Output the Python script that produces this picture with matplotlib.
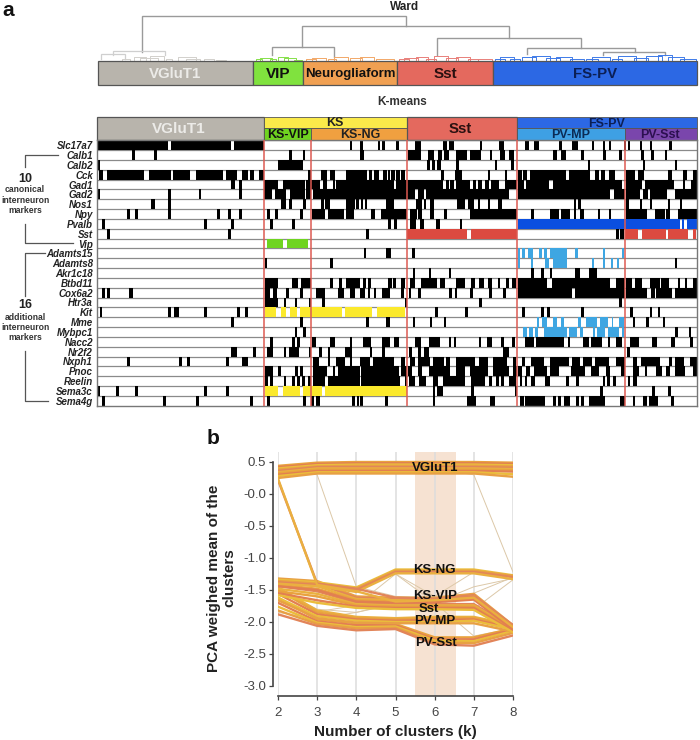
import matplotlib
matplotlib.use("Agg")
import matplotlib.pyplot as plt
from matplotlib.patches import Rectangle

plt.rcParams['font.family'] = ['Liberation Sans', 'DejaVu Sans']

W, H = 700, 740
fig = plt.figure(figsize=(W/100, H/100), dpi=100)

# ---------- data: panel a ----------
genes = ["Slc17a7","Calb1","Calb2","Cck","Gad1","Gad2","Nos1","Npy","Pvalb","Sst","Vip",
         "Adamts15","Adamts8","Akr1c18","Btbd11","Cox6a2","Htr3a","Kit","Mme","Mybpc1",
         "Nacc2","Nr2f2","Nxph1","Pnoc","Reelin","Sema3c","Sema4g"]

# positive cells, as spans along the cell ordering (two halves of the ordering)
left_black = {
 "Slc17a7":[(291,503),(513,693),(703,790)],
 "Calb1":[(398,405),(464,471),(869,875),(910,915)],
 "Calb2":[(291,298),(835,908)],
 "Cck":[(298,307),(323,430),(447,512),(520,526),(530,570),(588,668),(678,710),(727,743),(752,760),(777,790),(925,932),(965,980),(990,1005),(1040,1050)],
 "Gad1":[(695,703),(718,725),(792,833),(850,915),(920,932),(935,958),(970,980),(1000,1005),(1010,1050)],
 "Gad2":[(291,298),(505,512),(597,603),(718,725),(792,815),(825,858),(870,915),(918,932),(940,1050)],
 "Nos1":[(455,463),(505,512),(843,858),(868,875),(910,916),(965,970),(975,990),(1040,1050)],
 "Npy":[(381,388),(406,413),(505,512),(653,660),(686,693),(718,725),(802,809),(827,834),(900,907),(937,975),(985,1032),(1040,1050)],
 "Pvalb":[(307,314),(612,619),(695,702),(810,817),(877,883)],
 "Sst":[(323,330),(686,693)],
 "Vip":[],"Adamts15":[],
 "Adamts8":[(795,801),(992,999)],
 "Akr1c18":[],
 "Btbd11":[(795,833),(877,892),(903,932),(992,999),(1018,1025),(1040,1050)],
 "Cox6a2":[(307,314),(323,330),(389,397),(795,810),(820,830),(860,866),(900,907),(950,975),(1015,1032)],
 "Htr3a":[(795,833),(852,858),(885,891),(927,933),(967,974)],
 "Kit":[(300,306),(505,512),(522,537),(612,619),(711,718),(736,743)],
 "Mme":[(695,702),(900,907)],
 "Mybpc1":[(885,891),(910,916)],
 "Nacc2":[(810,817),(877,885),(893,899),(938,948),(992,1005)],
 "Nr2f2":[(695,709),(761,767),(802,817),(852,858),(868,897),(927,933),(958,965),(985,990),(1035,1050)],
 "Nxph1":[(381,388),(538,545),(563,570),(678,685),(727,743),(940,955),(985,990),(1010,1035)],
 "Pnoc":[(795,817),(835,842),(885,892),(900,908),(940,980),(1000,1005),(1015,1050)],
 "Reelin":[(797,803),(810,817),(852,858),(877,883),(892,899),(908,915),(925,932),(940,975),(985,1050)],
 "Sema3c":[(291,298),(348,355),(406,413),(612,619),(678,685)],
 "Sema4g":[(307,314),(489,496),(588,595),(752,759),(802,809),(910,916),(935,940),(950,958)],
}
right_black = {
 "Slc17a7":[(0,4),(30,38),(85,90),(97,103),(140,146),(197,212),(280,290),(298,310),(392,395),(447,460),(527,535),(552,567),(628,634),(668,682),(726,732),(760,764),(778,783),(822,826),(835,840),(870,875),(900,905),(958,965)],
 "Calb1":[(32,40),(175,212),(235,250),(265,275),(282,295),(320,350),(362,392),(420,426),(452,465),(478,492),(610,620),(633,648),(695,702),(760,766),(808,814),(875,880),(905,912),(945,950)],
 "Calb2":[(232,238),(247,255),(262,272),(320,326),(435,440),(485,490),(715,720),(880,885),(975,980)],
 "Cck":[(0,50),(58,65),(72,85),(100,110),(115,120),(125,135),(140,150),(155,165),(275,280),(315,335),(415,420),(465,470),(505,515),(520,530),(540,648),(658,720),(735,745),(755,765),(778,795),(830,855),(865,880),(955,965),(1000,1010),(1030,1040)],
 "Gad1":[(0,130),(140,170),(172,278),(290,295),(300,310),(320,360),(370,378),(385,395),(405,415),(425,445),(465,500),(505,520),(530,595),(610,815),(830,875),(885,970),(1000,1005),(1025,1040)],
 "Gad2":[(0,195),(205,220),(230,475),(505,780),(792,825),(830,870),(880,892),(900,950),(975,1040)],
 "Nos1":[(0,15),(20,25),(33,38),(45,50),(108,130),(200,215),(222,228),(240,250),(322,345),(355,370),(385,390),(415,420),(445,455),(672,678),(685,692),(830,835),(870,875),(900,905),(955,960),(990,995)],
 "Npy":[(0,10),(65,75),(95,170),(180,200),(205,215),(240,250),(282,290),(360,500),(545,552),(600,625),(635,658),(672,678),(690,700),(745,750),(778,782),(830,890),(915,945),(950,960),(985,1040)],
 "Pvalb":[(115,122),(133,140),(180,197),(210,220),(260,270),(330,335)],
 "Sst":[(48,56),(800,806),(812,820)],
 "Vip":[],
 "Adamts15":[(42,48),(108,122),(188,195)],
 "Adamts8":[(975,980)],
 "Akr1c18":[(190,195),(238,243),(297,302),(545,550),(575,580),(600,605),(675,690),(718,740)],
 "Btbd11":[(0,30),(40,48),(55,62),(115,125),(130,138),(155,165),(180,195),(215,260),(272,285),(320,345),(365,375),(388,400),(415,425),(445,450),(470,475),(487,497),(505,590),(607,780),(800,825),(830,845),(855,875),(900,930),(935,955),(985,990),(1005,1010),(1030,1040)],
 "Cox6a2":[(0,15),(32,45),(55,60),(72,78),(98,120),(155,160),(178,183),(205,212),(298,305),(315,320),(360,368),(418,425),(460,468),(505,665),(675,825),(830,890),(905,915),(920,965),(975,1040)],
 "Htr3a":[(165,170),(388,394),(808,815)],
 "Kit":[(257,262),(347,352),(518,524),(575,580),(592,598),(693,700),(842,847),(900,905),(925,930)],
 "Mme":[(50,56),(108,120),(190,195),(240,245),(282,287),(850,855),(888,895),(940,945)],
 "Mybpc1":[(975,982),(1017,1022)],
 "Nacc2":[(0,5),(40,62),(98,120),(133,145),(197,212),(238,270),(297,303),(312,318),(388,393),(412,425),(455,460),(488,495),(527,550),(560,640),(655,660),(700,715),(725,755),(775,780),(798,815),(840,865),(908,920),(965,975),(1022,1028)],
 "Nr2f2":[(0,5),(60,65),(98,103),(178,184),(205,212),(222,235),(460,475),(833,838)],
 "Nxph1":[(0,5),(32,60),(70,130),(155,165),(180,195),(205,240),(250,280),(290,300),(320,375),(388,412),(430,470),(490,497),(518,525),(545,580),(600,655),(668,690),(700,725),(735,775),(800,825),(850,860),(875,930),(958,965),(975,1000),(1020,1040)],
 "Pnoc":[(0,30),(35,145),(155,170),(175,185),(205,215),(238,300),(320,345),(362,385),(388,412),(430,475),(490,500),(505,515),(530,540),(552,590),(600,625),(665,705),(725,745),(770,780),(815,825),(850,865),(885,890),(920,935),(950,960),(975,1005),(1030,1040)],
 "Reelin":[(0,30),(35,150),(165,170),(178,195),(208,228),(250,262),(280,345),(365,405),(418,425),(440,445),(455,460),(478,497),(510,515),(525,530),(545,555),(585,600),(650,655),(680,685),(760,765),(772,780),(790,798),(835,840),(850,860)],
 "Sema3c":[(250,255),(262,278),(365,372),(495,500),(750,757),(908,915),(955,962)],
 "Sema4g":[(8,14),(22,27),(32,38),(107,113),(250,255),(353,377),(420,435),(510,520),(527,585),(610,618),(625,632),(643,658),(678,685),(695,700),(717,765),(810,825),(850,855),(880,890),(898,922),(965,970)],
}
left_colour = {
 "Vip":[(802,850),(860,925)],
 "Kit":[(795,827),(843,857),(870,892),(900,1025),(1035,1050)],
 "Sema3c":[(795,833),(848,900),(908,965),(975,1050)],
}
right_colour = {
 "Pvalb":[(505,990),(996,1003),(1012,1040)],
 "Sst":[(172,352),(362,500),(825,865),(875,947),(955,1013),(1030,1038)],
 "Adamts15":[(505,510),(515,525),(535,550),(568,575),(583,590),(600,650),(675,683),(758,765),(815,822)],
 "Adamts8":[(505,510),(543,550),(585,598),(610,650),(725,732),(760,765),(783,788),(800,806)],
 "Kit":[(0,65),(82,165)],
 "Mme":[(560,567),(575,590),(608,620),(632,642),(685,692),(708,740),(750,775),(785,790),(808,822)],
 "Mybpc1":[(518,530),(538,548),(555,565),(583,650),(658,680),(690,700),(728,735),(742,765),(775,808),(815,822)],
 "Sema3c":[(0,170)],
}
gene_colour = {"Vip":"#6fd420","Kit":"#fbe92c","Sema3c":"#fbe92c","Pvalb":"#0b4fe0","Sst":"#dc4a40",
               "Adamts15":"#3ea6e2","Adamts8":"#3ea6e2","Mme":"#3ea6e2","Mybpc1":"#3ea6e2"}

cluster_edges = [264, 311, 407, 517, 625]

ward_labels = ["VGluT1","VIP","Neurogliaform","Sst","FS-PV"]
ward_edges = [98, 253, 303, 397, 493, 697]
ward_fill = ["#b8b4ac","#80e23e","#f0a052","#e4695e","#2c68e4"]
ward_txt = ["#ecebe8","#111111","#111111","#2a1010","#0b1f55"]
ward_size = [10.8,11,9.5,11,10.8]

# dendrogram: upper joins (x0, x1, height, left drop, right drop)
joins = [(142,406,16,52,26),(302,509,26,47,38),(437,581,38,55,48),(272,334,47,55,57),
         (527,635,48,54,52),(603,665,52,55,55)]
joins_light = [(113,165,51,55,55),(101,125,54,59,59)]
# dendrogram: lowest joins per Ward cluster (x0, x1, height)
low = {
 "#d2d0cc":[(122,130,59),(134,146,57),(140,158,58),(150,164,56),(166,172,59),(178,196,57),(186,200,59),(204,214,59),(216,226,60)],
 "#86e04a":[(256,262,59),(260,272,58),(270,276,59),(278,288,57),(284,296,58),(294,302,60)],
 "#f2a868":[(306,316,59),(312,326,58),(328,336,59),(334,348,57),(350,362,58),(360,374,57),(376,394,59)],
 "#e8807a":[(399,409,59),(404,418,58),(416,428,57),(426,436,59),(434,448,56),(446,458,58),(456,470,57),(468,478,59),(478,492,59)],
 "#3f7ae8":[(495,505,59),(500,514,57),(510,520,59),(522,536,57),(532,550,56),(546,560,58),(556,572,57),(570,584,59),
            (586,598,59),(592,610,57),(612,622,59),(618,636,56),(634,648,58),(646,662,56),(658,672,55),(668,684,57),(680,696,59)],
}

# ---------- data: panel b ----------
k_values = [2,3,4,5,6,7,8]
k_band = (5.5, 6.55)
yticks = [0.5,0.0,-0.5,-1.0,-1.5,-2.0,-2.5,-3.0]
ytick_labels = ["0.5","-0.0","-0.5","-1.0","-1.5","-2.0","-2.5","-3.0"]
vglut = [
 [0.44,0.49,0.50,0.50,0.50,0.50,0.49],[0.42,0.47,0.48,0.48,0.48,0.48,0.47],
 [0.40,0.45,0.46,0.46,0.46,0.46,0.45],[0.38,0.43,0.44,0.44,0.44,0.44,0.43],
 [0.36,0.42,0.42,0.42,0.42,0.42,0.41],[0.34,0.40,0.40,0.40,0.40,0.40,0.39],
 [0.32,0.38,0.38,0.38,0.38,0.38,0.37],[0.30,0.36,0.36,0.36,0.36,0.36,0.35],
 [0.28,0.34,0.34,0.34,0.34,0.34,0.31],[0.25,0.32,0.32,0.32,0.32,0.32,0.27],
]
ks_ng = [
 [-1.34,-1.38,-1.46,-1.18,-1.18,-1.18,-1.27],[-1.36,-1.40,-1.48,-1.20,-1.20,-1.20,-1.28],
 [-1.38,-1.42,-1.50,-1.22,-1.22,-1.22,-1.30],[-1.40,-1.44,-1.53,-1.24,-1.24,-1.24,-1.33],
]
ks_vip = [
 [-1.32,-1.36,-1.60,-1.62,-1.62,-1.56,-2.05],[-1.36,-1.40,-1.62,-1.64,-1.64,-1.58,-2.06],
 [-1.38,-1.44,-1.64,-1.66,-1.66,-1.60,-2.08],[-1.42,-1.48,-1.66,-1.68,-1.68,-1.62,-2.10],
 [-1.44,-1.50,-1.68,-1.70,-1.69,-1.65,-2.12],
]
sst = [
 [-1.44,-1.52,-1.70,-1.72,-1.72,-1.72,-2.08],[-1.48,-1.56,-1.72,-1.74,-1.74,-1.74,-2.10],
 [-1.52,-1.60,-1.74,-1.76,-1.76,-1.76,-2.12],[-1.55,-1.66,-1.76,-1.78,-1.78,-1.78,-2.14],
 [-1.58,-1.70,-1.78,-1.80,-1.80,-1.81,-2.16],
]
pv_mp = [
 [-1.46,-1.82,-1.92,-1.94,-1.92,-1.92,-2.05],[-1.50,-1.85,-1.94,-1.96,-1.94,-1.94,-2.08],
 [-1.56,-1.88,-1.96,-1.98,-1.97,-1.96,-2.10],[-1.62,-1.91,-1.98,-2.00,-2.00,-1.98,-2.12],
 [-1.66,-1.94,-2.01,-2.02,-2.02,-2.02,-2.15],
]
pv_sst = [
 [-1.62,-1.96,-2.02,-2.03,-2.24,-2.24,-2.10],[-1.70,-1.99,-2.05,-2.05,-2.27,-2.27,-2.12],
 [-1.76,-2.01,-2.08,-2.07,-2.29,-2.30,-2.14],[-1.82,-2.03,-2.10,-2.09,-2.32,-2.33,-2.17],
 [-1.88,-2.06,-2.13,-2.11,-2.35,-2.37,-2.21],
]
strays_thick = [[0.22,-1.40,-1.48,-1.62,-1.64,-1.60,-2.05],[0.24,-1.42,-1.52,-1.68,-1.66,-1.62,-2.08]]
strays_thin = [
 [0.40,0.30,-1.45,-1.60,-1.62,-1.60,-2.06],[0.44,0.40,0.40,0.40,0.40,0.30,-1.22],
 [-1.45,-1.42,-1.45,-1.25,-1.60,-1.22,-1.28],[-1.50,-1.84,-1.74,-1.25,-1.70,-2.22,-2.10],
 [-1.50,-1.80,-1.85,-1.72,-1.75,-1.55,-1.30],[-1.55,-1.70,-1.65,-1.68,-1.70,-1.45,-1.32],
 [-1.85,-1.95,-1.85,-1.70,-1.76,-1.80,-1.34],
]
band_labels = [("VGluT1",6.0,0.41),("KS-NG",6.0,-1.19),("KS-VIP",6.0,-1.59),("Sst",5.86,-1.79),
               ("PV-MP",6.0,-1.98),("PV-Sst",6.04,-2.33)]
line_colours = ["#e9a23e","#e27f52","#ebbd3c","#e8a044","#e2855a","#eab040"]

# ---------- overlay in figure pixels ----------
ov = fig.add_axes([0,0,1,1]); ov.set_xlim(0,W); ov.set_ylim(H,0); ov.axis("off")
def box(x0,x1,y0,y1,fc,ec="#555555",lw=0.9,z=2):
    ov.add_patch(Rectangle((x0,y0),x1-x0,y1-y0,fc=fc,ec=ec,lw=lw,zorder=z))

ov.text(2,11,"a",fontsize=15,fontweight="bold",va="center",color="#111")
ov.text(207,438,"b",fontsize=15,fontweight="bold",va="center",color="#111")
ov.text(405,6.5,"Ward",fontsize=8.5,fontweight="bold",ha="center",va="center",color="#222")
ov.text(402,102,"K-means",fontsize=8.5,fontweight="bold",ha="center",va="center",color="#333")

# dendrogram
for x0,x1,h,d0,d1 in joins:
    ov.plot([x0,x0,x1,x1],[d0,h,h,d1],color="#9a9a9a",lw=1.0,zorder=1,solid_joinstyle="miter")
for x0,x1,h,d0,d1 in joins_light:
    ov.plot([x0,x0,x1,x1],[d0,h,h,d1],color="#cfcfcf",lw=0.9,zorder=1,solid_joinstyle="miter")
for col,arcs in low.items():
    for x0,x1,h in arcs:
        ov.plot([x0,x0,x1,x1],[60.5,h,h,60.5],color=col,lw=0.7,zorder=1)

# Ward bar
for i,name in enumerate(ward_labels):
    x0,x1 = ward_edges[i],ward_edges[i+1]
    box(x0,x1,61,85,ward_fill[i])
    ov.text((x0+x1)/2,73.5,name,fontsize=ward_size[i],fontweight="bold",ha="center",va="center",color=ward_txt[i],zorder=3)

# K-means header
box(97,264,117,140,"#b8b4ac")
ov.text(179,129,"VGluT1",fontsize=11,fontweight="bold",ha="center",va="center",color="#ecebe8",zorder=3)
box(264,407,117,128,"#fbea4a",lw=0.6); box(264,311,128,140,"#6fd420",lw=0.6); box(311,407,128,140,"#f0a040",lw=0.6)
ov.text(335,123,"KS",fontsize=9,fontweight="bold",ha="center",va="center",color="#222",zorder=3)
ov.text(288,135,"KS-VIP",fontsize=9,fontweight="bold",ha="center",va="center",color="#111",zorder=3)
ov.text(360,135,"KS-NG",fontsize=9,fontweight="bold",ha="center",va="center",color="#222",zorder=3)
box(407,517,117,140,"#e4695e")
ov.text(460,129,"Sst",fontsize=10.8,fontweight="bold",ha="center",va="center",color="#2a1010",zorder=3)
box(517,697,117,128,"#2c68e4",lw=0.6); box(517,625,128,140,"#3ea0e4",lw=0.6); box(625,697,128,140,"#7a46ac",lw=0.6)
ov.text(607,124,"FS-PV",fontsize=9,fontweight="bold",ha="center",va="center",color="#0b1f55",zorder=3)
ov.text(571,135,"PV-MP",fontsize=9,fontweight="bold",ha="center",va="center",color="#0b2b55",zorder=3)
ov.text(660,135,"PV-Sst",fontsize=9,fontweight="bold",ha="center",va="center",color="#2c1050",zorder=3)

# brackets and group labels
bc = "#555555"
for xs,ys in [([58,25,25],[154.5,154.5,167]),([25,25,73],[224,243,243]),
              ([45,25,25],[253,253,296]),([25,25,48],[351,401,401])]:
    ov.plot(xs,ys,color=bc,lw=0.9)
ov.text(25,178.5,"10",fontsize=9,fontweight="bold",ha="center",va="center",color="#222")
ov.text(25,305,"16",fontsize=9,fontweight="bold",ha="center",va="center",color="#222")
for y,t in [(190,"canonical"),(200.5,"interneuron"),(210.5,"markers"),(317,"additional"),(327.5,"interneuron"),(337.5,"markers")]:
    ov.text(25,y,t,fontsize=6.2,fontweight="bold",ha="center",va="center",color="#333")

# ---------- heat map ----------
hx0,hx1,hy0,hy1 = 97,697,140.3,405.7
hm = fig.add_axes([hx0/W,1-hy1/H,(hx1-hx0)/W,(hy1-hy0)/H])
hm.set_xlim(hx0,hx1); hm.set_ylim(len(genes),0)
def px(sp,off,pad): return [((a+off)/3-pad,(b-a)/3+2*pad) for a,b in sp]
for r,g in enumerate(genes):
    hm.axhline(r,color="#8a8a8a",lw=0.9,zorder=1)
    sp = px(left_black.get(g,[]),0,0.35)+px(right_black.get(g,[]),1050,0.35)
    hm.broken_barh(sp,(r,1),facecolors="black",lw=0,zorder=2)
    sc = px(left_colour.get(g,[]),0,0)+px(right_colour.get(g,[]),1050,0)
    if sc: hm.broken_barh(sc,(r,1),facecolors=gene_colour[g],lw=0,zorder=2)
for x in cluster_edges:
    hm.axvline(x,color="#dd5a52",lw=1.1,zorder=4)
hm.set_yticks([i+0.5 for i in range(len(genes))],genes,fontsize=7,fontstyle="italic",fontweight="bold",color="#222")
hm.tick_params(axis="y",length=0,pad=3); hm.set_xticks([])
for s in hm.spines.values():
    s.set_color("#777777"); s.set_linewidth(1.0)

# ---------- panel b ----------
bx0,bx1,by0,by1 = 278,513,452,696
b = fig.add_axes([bx0/W,1-by1/H,(bx1-bx0)/W,(by1-by0)/H])
b.set_xlim(2,8); b.set_ylim(0.5-(696-462)/64,0.5+10/64)
b.axvspan(*k_band,color="#f6e2d2",lw=0,zorder=0)
for k in k_values:
    b.axvline(k,color="#dcdcdc",lw=1.1,zorder=1)
for tr in strays_thin:
    b.plot(k_values,tr,color="#dcc8a8",lw=0.7,zorder=2)
i = 0
for grp in (pv_sst,pv_mp,sst,ks_vip,ks_ng,vglut,strays_thick):
    for tr in grp:
        b.plot(k_values,tr,color=line_colours[i%len(line_colours)],lw=1.7,zorder=3,solid_joinstyle="round")
        i += 1
for t,x,y in band_labels:
    b.text(x,y,t,fontsize=9.5,fontweight="bold",ha="center",va="center",color="#111",zorder=5)
for s in ("top","right"): b.spines[s].set_visible(False)
b.spines["left"].set_position(("outward",3.6)); b.spines["left"].set_bounds(-3.0,0.5)
b.spines["left"].set_color("#444"); b.spines["bottom"].set_color("#444")
b.spines["left"].set_linewidth(1.2); b.spines["bottom"].set_linewidth(1.2)
b.set_xticks(k_values); b.set_yticks(yticks,ytick_labels)
b.tick_params(axis="both",labelsize=9.5,labelcolor="#444",color="#444",length=3,width=0.9)
b.tick_params(axis="y",pad=2)
b.tick_params(axis="x",pad=5)
b.set_xlabel("Number of clusters (k)",fontsize=11,fontweight="bold",color="#222",labelpad=4)
ov.text(222,578,"PCA weighed mean of the\nclusters",fontsize=11,fontweight="bold",rotation=90,
        ha="center",va="center",color="#222",linespacing=1.15,multialignment="center")
fig.savefig("out.png",dpi=100)
